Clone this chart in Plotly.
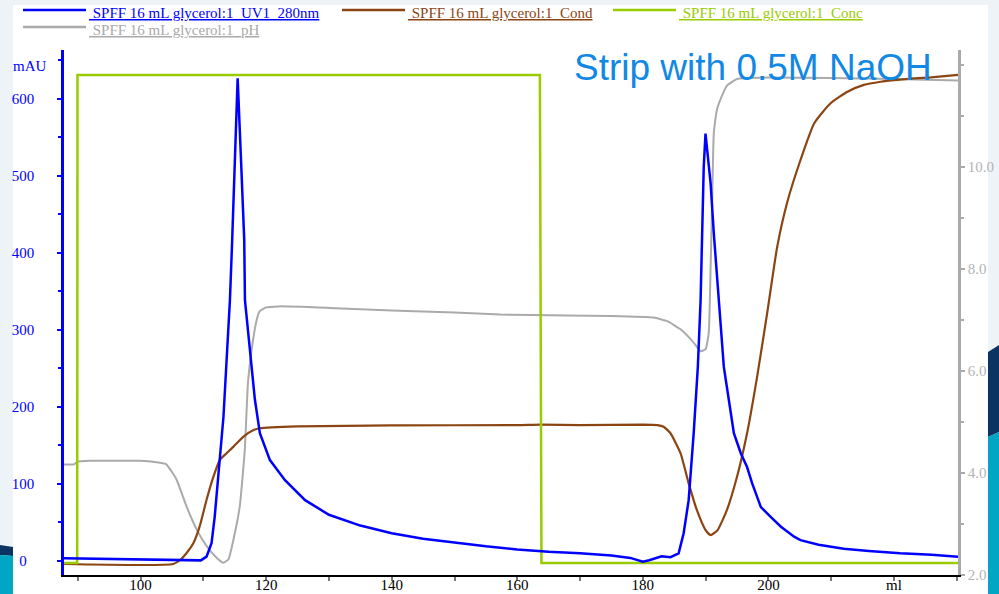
import plotly.graph_objects as go

# ---------------- data ----------------
uv_ml = [87.8, 92, 96, 100, 104, 108, 109.6, 110.5, 111.3, 111.8, 112.5, 113.2, 113.7, 114.23, 114.59,
         115.0, 115.46, 116.0, 116.51, 116.62, 117.42, 118.2, 119.0, 120.6, 123.0, 126.2, 130, 135, 140,
         145, 150, 155, 160, 165, 170, 175, 178, 180, 181, 182, 183, 184.4, 185.7, 186.5, 187.3, 188.1,
         188.76, 189.2, 189.46, 189.7, 189.98, 190.25, 190.8, 191.3, 192.1, 192.9, 193.7, 194.5, 195.6,
         196.6, 197.4, 198.8, 200.4, 202.0, 204.1, 205.1, 208, 212, 216, 221, 226, 230.2]
uv_mau = [3.5, 3.0, 2.4, 1.8, 1.2, 0.9, 0.8, 5.6, 23, 57, 122, 187, 261, 339, 417,
          515, 627, 520, 417, 339, 274, 210, 166, 131, 105, 79, 60, 46, 36,
          29, 24, 19, 15, 12, 10, 7, 4, -1, 1, 4, 6, 5, 10, 36, 79, 166,
          252, 339, 426, 512, 555, 534, 490, 426, 339, 252, 209, 166, 140,
          122, 101, 70, 57, 44.5, 31.6, 27, 21, 16, 13, 10, 8, 5.6]

cond_ml = [87.8, 105.2, 106.3, 107.3, 108.4, 109.4, 110.5, 111.6, 112.6, 113.7, 114.8, 116.4, 118.0, 119.0,
           125, 140, 160, 163.7, 170, 180, 182.3, 183.3, 184.4, 186.0, 187.3, 188.6, 190.0, 190.8, 191.9,
           193.4, 195.0, 196.6, 198.2, 199.8, 201.4, 203.0, 205.1, 207.3, 209.9, 212.6, 215.2, 217.9,
           220.5, 223.2, 225.9, 230.2]
cond_ms = [4.19, 4.19, 5.71, 8.27, 12.08, 18.4, 28.57, 37.45, 43.8, 46.4, 48.9, 52.7, 55.2, 55.9,
           56.6, 57.0, 57.1, 57.3, 57.1, 57.3, 57.1, 56.5, 54.0, 46.4, 34.9, 24.8, 17.1, 15.2, 17.1,
           24.8, 37.4, 54.0, 75.5, 99.7, 125.0, 142.0, 158.0, 172.1, 179.7, 184.1, 186.7, 187.9,
           188.6, 189.2, 189.6, 190.5]

conc_ml = [87.8, 89.9, 89.95, 163.6, 163.85, 230.2]
conc_pct = [0, 0, 100, 100, 0, 0]

ph_ml = [87.8, 89.4, 89.9, 92, 100, 103.1, 104.1, 105.7, 107.3, 108.9, 110.5, 112.1, 113.2, 114.0, 114.8,
         115.8, 116.6, 117.1, 117.7, 118.5, 119.0, 120.0, 122, 130, 140, 150, 157.3, 167.9, 175, 181.7,
         183.9, 186.0, 188.1, 189.2, 190.0, 190.5, 190.8, 191.1, 191.3, 191.8, 192.6, 193.4, 195, 200,
         210, 220, 230.2]
ph_val = [4.17, 4.17, 4.22, 4.24, 4.24, 4.20, 4.17, 3.88, 3.35, 2.90, 2.57, 2.34, 2.24, 2.31, 2.70,
          3.35, 4.46, 5.77, 6.43, 7.01, 7.18, 7.25, 7.27, 7.24, 7.19, 7.15, 7.11, 7.09, 7.08, 7.05,
          6.98, 6.82, 6.56, 6.39, 6.43, 6.75, 8.06, 9.69, 10.67, 11.13, 11.40, 11.60, 11.73, 11.76,
          11.75, 11.73, 11.70]

x_tickvals = [100, 120, 140, 160, 180, 200, 220]
x_ticktext = ["100", "120", "140", "160", "180", "200", "ml"]
x_minorvals = [90, 100, 110, 120, 130, 140, 150, 160, 170, 180, 190, 200, 210, 220, 230]
uv_tickvals = [0, 100, 200, 300, 400, 500, 600]
uv_ticktext = ["0\u2002", "100", "200", "300", "400", "500", "600"]
ph_tickvals = [2, 4, 6, 8, 10]
ph_ticktext = ["2.0", "4.0", "6.0", "8.0", "10.0"]

names = ["SPFF 16 mL glycerol:1_UV1_280nm", "SPFF 16 mL glycerol:1_Cond",
         "SPFF 16 mL glycerol:1_Conc", "SPFF 16 mL glycerol:1_pH"]

# ---------------- styles ----------------
BLUE = "#0000ff"
BROWN = "#8b4513"
GREEN = "#99cc00"
GRAY = "#aaaaaa"
SERIF = "Liberation Serif"

W, H = 999, 594
L, R, T, B = 64, 41, 50, 19
PW, PH = W - L - R, H - T - B


def px(x):
    return (x - L) / PW


def py(y):
    return (H - B - y) / PH


fig = go.Figure()
fig.add_trace(go.Scatter(x=ph_ml, y=ph_val, yaxis="y", mode="lines", name=names[3],
                         line=dict(color=GRAY, width=2, shape="spline", smoothing=0.4)))
fig.add_trace(go.Scatter(x=cond_ml, y=cond_ms, yaxis="y2", mode="lines", name=names[1],
                         line=dict(color=BROWN, width=2.2, shape="spline", smoothing=0.5)))
fig.add_trace(go.Scatter(x=conc_ml, y=conc_pct, yaxis="y3", mode="lines", name=names[2],
                         line=dict(color=GREEN, width=2.5)))
fig.add_trace(go.Scatter(x=uv_ml, y=uv_mau, yaxis="y4", mode="lines", name=names[0],
                         line=dict(color=BLUE, width=2.5)))

shapes = []
# slide background
shapes.append(dict(type="rect", xref="paper", yref="paper", x0=px(13), x1=px(988), y0=py(594), y1=py(5),
                   fillcolor="white", line=dict(width=0), layer="below"))
shapes.append(dict(type="path", xref="paper", yref="paper", layer="below", line=dict(width=0),
                   fillcolor="#0b3463",
                   path=f"M {px(0)},{py(545)} L {px(13)},{py(547)} L {px(13)},{py(556)} L {px(0)},{py(555)} Z"))
shapes.append(dict(type="path", xref="paper", yref="paper", layer="below", line=dict(width=0),
                   fillcolor="#00a6c4",
                   path=f"M {px(0)},{py(555)} L {px(13)},{py(556)} L {px(13)},{py(594)} L {px(0)},{py(594)} Z"))
shapes.append(dict(type="path", xref="paper", yref="paper", layer="below", line=dict(width=0),
                   fillcolor="#0b3463",
                   path=f"M {px(988)},{py(352)} L {px(999)},{py(345)} L {px(999)},{py(432)} L {px(988)},{py(437)} Z"))
shapes.append(dict(type="path", xref="paper", yref="paper", layer="below", line=dict(width=0),
                   fillcolor="#00a6c4",
                   path=f"M {px(988)},{py(437)} L {px(999)},{py(432)} L {px(999)},{py(594)} L {px(988)},{py(594)} Z"))

# legend (manual, like the original software)
legend_items = [(names[0], BLUE, 23, 10), (names[1], BROWN, 342, 10), (names[2], GREEN, 613, 10),
                (names[3], GRAY, 23, 27)]
annotations = []
for name, col, lx, ly in legend_items:
    shapes.append(dict(type="line", xref="paper", yref="paper", x0=px(lx), x1=px(lx + 63),
                       y0=py(ly), y1=py(ly), line=dict(color=col, width=2.5)))
    annotations.append(dict(xref="paper", yref="paper", x=px(lx + 64), y=py(ly + 3), xanchor="left",
                            yanchor="middle", showarrow=False,
                            text=f"<span style='text-decoration:underline'>\u00a0{name}</span>",
                            font=dict(family=SERIF, size=15, color=col)))

annotations.append(dict(xref="paper", yref="paper", x=px(30), y=py(66), xanchor="center", yanchor="middle",
                        showarrow=False, text="mAU", font=dict(family=SERIF, size=15, color=BLUE)))
annotations.append(dict(xref="paper", yref="paper", x=px(753), y=py(67), xanchor="center", yanchor="middle",
                        showarrow=False, text="Strip with 0.5M NaOH",
                        font=dict(family="Liberation Sans", size=37, color="#1188e6")))

fig.update_layout(
    width=W, height=H,
    margin=dict(l=L, r=R, t=T, b=B, pad=0, autoexpand=False),
    paper_bgcolor="#eef3f8",
    plot_bgcolor="rgba(0,0,0,0)",
    showlegend=False,
    shapes=shapes,
    annotations=annotations,
    xaxis=dict(range=[87.8, 230.2], tickvals=x_tickvals, ticktext=x_ticktext, ticks="",
               showline=True, linecolor="black", ticklabelstandoff=-5,
               linewidth=2, showgrid=False, zeroline=False, automargin=False,
               tickfont=dict(family=SERIF, size=15, color="black"),
               minor=dict(tickvals=x_minorvals, ticks="outside", ticklen=4,
                          tickcolor="#777777", tickwidth=1.5, showgrid=False)),
    yaxis=dict(side="right", range=[2.0, 12.3], tickvals=ph_tickvals, ticktext=ph_ticktext,
               ticks="outside", ticklen=4, tickwidth=1.5, tickcolor=GRAY, showline=True, linecolor=GRAY,
               linewidth=2.5, showgrid=False, zeroline=False, automargin=False,
               tickfont=dict(family=SERIF, size=15, color="#b4b4b4"),
               minor=dict(tickvals=[3, 5, 7, 9, 11, 12], ticks="outside", ticklen=3, tickcolor=GRAY,
                          tickwidth=1.5, showgrid=False)),
    yaxis2=dict(overlaying="y", range=[0, 200], visible=False),
    yaxis3=dict(overlaying="y", range=[-2.46, 105.12], visible=False),
    yaxis4=dict(overlaying="y", side="left", anchor="x", range=[-18.2, 663.6], tickvals=uv_tickvals,
                ticktext=uv_ticktext, ticks="outside", ticklen=4, tickwidth=2, tickcolor=BLUE,
                showline=True, linecolor=BLUE, linewidth=2.5, showgrid=False, zeroline=False,
                ticklabelstandoff=20, automargin=False,
                tickfont=dict(family=SERIF, size=15, color=BLUE),
                minor=dict(tickvals=[50, 150, 250, 350, 450, 550, 650], ticks="outside", ticklen=3,
                           tickcolor=BLUE, tickwidth=2, showgrid=False)),
)

fig.write_html("out.html")
